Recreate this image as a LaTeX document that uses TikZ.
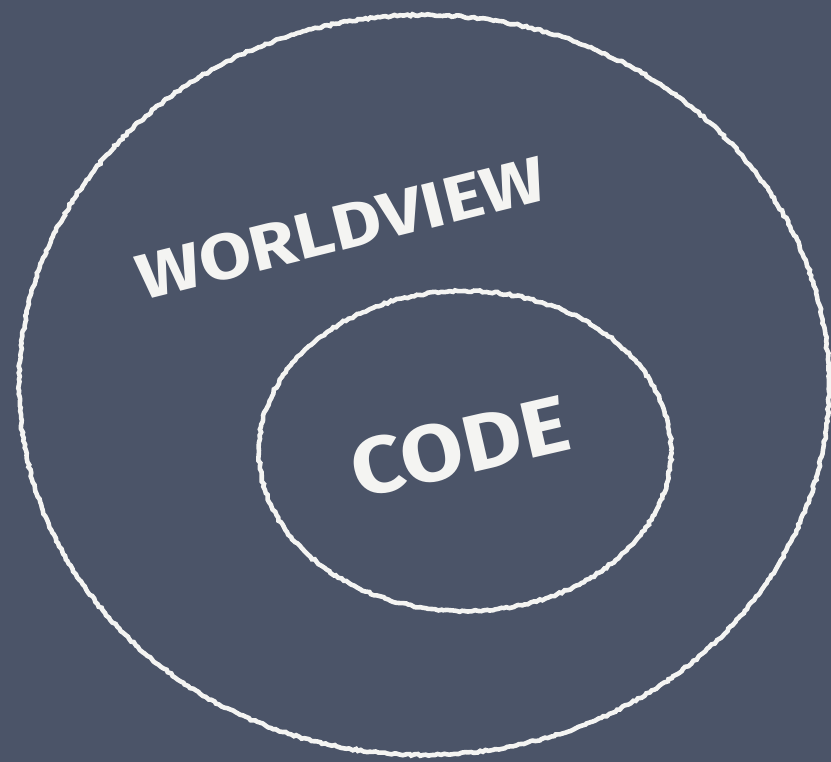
\documentclass[tikz,border=0pt]{standalone}
\usepackage{fontspec}
\setmainfont{Fira Sans}
\usetikzlibrary{decorations.pathmorphing}
\definecolor{board}{HTML}{4B5468}
\definecolor{chalk}{HTML}{F4F4F2}
\tikzset{
  chalkline/.style={draw=chalk, line width=4.6pt,
    decorate, decoration={random steps, segment length=3pt, amplitude=1pt}},
  chalktext/.style={text=chalk, font=\fontsize{#1}{#1}\selectfont\bfseries, inner sep=0pt}
}
\begin{document}
\begin{tikzpicture}[x=1pt,y=-1pt]
\fill[board] (0,0) rectangle (831,762);
\useasboundingbox (0,0) rectangle (831,762);
\coordinate (oc) at (424,385);
\coordinate (ic) at (465,451);
\draw[chalkline] (oc) ellipse [x radius=405, y radius=370];
\draw[chalkline] (ic) ellipse [x radius=206, y radius=160];
\node[chalktext=64, rotate=14, xscale=1.18] (worldview) at (341,228) {WORLDVIEW};
\node[chalktext=80, rotate=13, xscale=1.14] (code) at (460,447) {CODE};
\end{tikzpicture}
\end{document}
